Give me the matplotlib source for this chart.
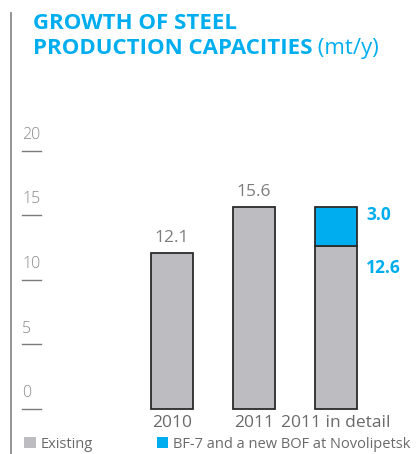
import matplotlib
matplotlib.use("Agg")
from matplotlib import pyplot as plt
from matplotlib.patches import Patch
from matplotlib.transforms import blended_transform_factory

plt.rcParams["font.family"] = ["Open Sans", "DejaVu Sans"]

categories = ["2010", "2011", "2011 in detail"]
existing = [12.1, 15.6, 12.6]
new_capacity = [0.0, 0.0, 3.0]
total_labels = ["12.1", "15.6", None]
yticks = [0, 5, 10, 15, 20]
legend_labels = ["Existing", "BF-7 and a new BOF at Novolipetsk"]

BLUE = "#00aeef"
GREY = "#bdbdc1"
EDGE = "#2b2b2b"

W, H = 417, 454
fig = plt.figure(figsize=(W / 100, H / 100), dpi=100)
ax = fig.add_axes([0, 0, 1, 1])
ax.axis("off")

# pixel mapping: 82 px per category, 12.92 px per unit, zero at y=409 px
px_x, px_y = 82.0, 12.92
x0_px, y0_px = 172.0, 409.0
ax.set_xlim(-x0_px / px_x, (W - x0_px) / px_x)
ax.set_ylim(-(H - y0_px) / px_y, y0_px / px_y)

xs = list(range(len(categories)))
ax.bar(xs, existing, width=0.52, color=GREY, edgecolor=EDGE, linewidth=1.3, zorder=2)
ax.bar(xs[2], new_capacity[2], bottom=existing[2], width=0.52, color=BLUE,
       edgecolor=EDGE, linewidth=1.3, zorder=2)

for x, v, lab in zip(xs, existing, total_labels):
    if lab:
        ax.text(x, v + 0.55, lab, ha="center", va="bottom", fontsize=12.5, color="#7d7d7d")
ax.text(xs[2] + 0.37, existing[2] + new_capacity[2] - 0.55, f"{new_capacity[2]:.1f}",
        ha="left", va="center", fontsize=12.5, fontweight="bold", color=BLUE)
ax.text(xs[2] + 0.37, existing[2] - 1.65, f"{existing[2]:.1f}",
        ha="left", va="center", fontsize=12.5, fontweight="bold", color=BLUE)

for x, c in zip(xs, categories):
    ax.text(x, -1.05, c, ha="center", va="center", fontsize=12.5, color="#6a6a6a")

# y ticks on the left
tr = blended_transform_factory(ax.transAxes, ax.transData)
for t in yticks:
    ax.plot([22 / W, 41 / W], [t, t], color="#7a7a7a", lw=1.0, transform=tr)
    ax.text(22 / W, t + 0.6, str(t), transform=tr, ha="left", va="bottom",
            fontsize=11.5, color="#8a8a8a", fontweight="light")

# page decoration line
fig.add_artist(plt.Line2D([11 / W, 11 / W], [0, 1 - 13 / H], color="#8a8a8a", lw=1.3))

# title
fig.text(33 / W, 1 - 13 / H, "GROWTH OF STEEL", ha="left", va="top",
         fontsize=16, fontweight="bold", color=BLUE)
t2 = fig.text(33 / W, 1 - 38 / H, "PRODUCTION CAPACITIES", ha="left", va="top",
              fontsize=16, fontweight="bold", color=BLUE)
ax.annotate(" (mt/y)", xy=(1, 0), xycoords=t2, ha="left", va="bottom",
            fontsize=16, color=BLUE)

handles = [Patch(facecolor=GREY, edgecolor="none"), Patch(facecolor=BLUE, edgecolor="none")]
fig.legend(handles, legend_labels, loc="center left", bbox_to_anchor=(17 / W, 1 - 444 / H),
           ncol=2, frameon=False, fontsize=10.5, handlelength=0.8, handleheight=0.8,
           handletextpad=0.3, columnspacing=4.4, labelcolor="#6a6a6a", borderpad=0)

fig.savefig("out.png", dpi=100)
